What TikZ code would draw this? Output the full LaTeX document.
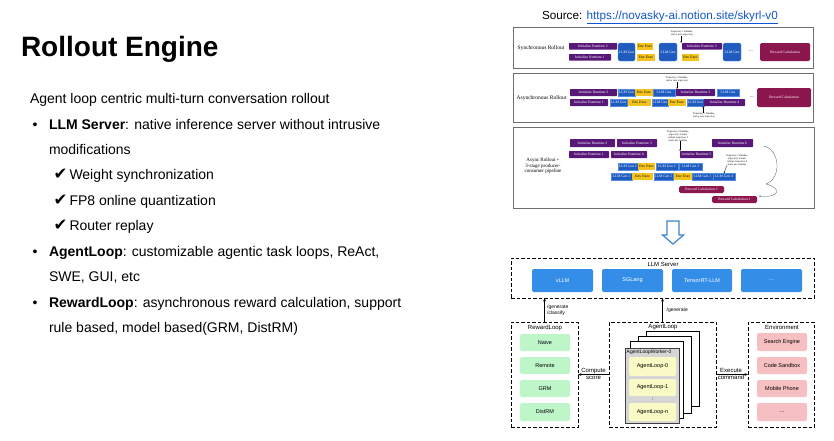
\documentclass[tikz,border=0pt]{standalone}
\usepackage{fontspec}
\setmainfont{Liberation Sans}
\newfontfamily\serfont{Liberation Serif}
\newfontfamily\symfont{DejaVu Sans}
\usetikzlibrary{arrows.meta}
\definecolor{tlpurple}{RGB}{88,24,120}
\definecolor{tlblue}{RGB}{32,92,192}
\definecolor{tlblueb}{RGB}{80,140,225}
\definecolor{tlyellow}{RGB}{245,195,30}
\definecolor{tlmaroon}{RGB}{140,22,78}
\definecolor{panelgray}{RGB}{110,110,110}
\definecolor{srvblue}{RGB}{52,142,232}
\definecolor{rlgreen}{RGB}{190,246,202}
\definecolor{envpink}{RGB}{246,192,194}
\definecolor{alyellow}{RGB}{250,250,198}
\definecolor{pagegray}{RGB}{214,214,214}
\definecolor{linkblue}{RGB}{17,85,204}
\definecolor{hollowblue}{RGB}{61,133,198}
% name, x1, y1, x2, y2, style, text
\newcommand\tlbox[7]{\node[#6, anchor=north west, inner sep=0pt, outer sep=0pt,
  minimum width={(#4-#2)*1pt}, minimum height={(#5-#3)*1pt}] (#1) at (#2,#3) {#7};}
\begin{document}
\begin{tikzpicture}[x=1pt,y=-1pt,
  txt/.style={inner sep=0pt, outer sep=0pt, anchor=base west, font=\fontsize{14}{16}\selectfont},
  chk/.style={inner sep=0pt, outer sep=0pt, anchor=base west, font=\symfont\fontsize{16.5}{18}\selectfont},
  tlf/.style={font=\serfont\fontsize{3.7}{4}\selectfont},
  tlp/.style={tlf, fill=tlpurple, text=white, rounded corners=0.6pt},
  tlb/.style={tlf, fill=tlblue, draw=tlblueb, line width=0.3pt, text=white},
  tlbr/.style={tlb, rounded corners=1.5pt},
  tly/.style={tlf, fill=tlyellow, text=black},
  tlm/.style={tlf, fill=tlmaroon, text=white, rounded corners=1.5pt},
  panel/.style={draw=panelgray, line width=0.8pt, fill=white},
  ann/.style={font=\serfont\fontsize{2.6}{2.9}\selectfont, align=center, inner sep=0pt},
  tarr/.style={-{Stealth[length=1.6pt,width=1.4pt]}, line width=0.3pt},
  dbox/.style={draw, dashed, dash pattern=on 3.5pt off 2pt, line width=0.8pt},
  dgf/.style={font=\fontsize{5.5}{6}\selectfont},
  srv/.style={dgf, fill=srvblue, rounded corners=2pt, text=white},
  grn/.style={dgf, fill=rlgreen, rounded corners=2pt},
  pnk/.style={dgf, fill=envpink, rounded corners=2pt},
  ylw/.style={dgf, fill=alyellow, rounded corners=1.5pt},
  page/.style={draw, fill=white, line width=0.6pt},
  front/.style={draw=black!75, fill=pagegray, line width=1pt},
  arr/.style={-{Stealth[length=3.5pt,width=2.8pt]}, line width=0.6pt},
  lbl/.style={font=\fontsize{6}{6.5}\selectfont, inner sep=0pt}
]
\useasboundingbox (0,0) rectangle (834,440);

% ---------------- left text ----------------
\node[txt, font=\bfseries\fontsize{28}{32}\selectfont] (title) at (21,56.5) {Rollout Engine};
\node[txt] (intro) at (30,103.3) {Agent loop centric multi-turn conversation rollout};
\node[txt] (b1) at (32.5,129.3) {\textbullet};
\node[txt] (l1) at (49,129.3) {\textbf{LLM Server}: native inference server without intrusive};
\node[txt] (l1b) at (49,154.3) {modifications};
\node[chk] (c1) at (53.5,179.3) {✔};
\node[txt] (s1) at (69.5,179.3) {Weight synchronization};
\node[chk] (c2) at (53.5,205) {✔};
\node[txt] (s2) at (69.5,205) {FP8 online quantization};
\node[chk] (c3) at (53.5,230.7) {✔};
\node[txt] (s3) at (69.5,230.7) {Router replay};
\node[txt] (b2) at (32.5,256) {\textbullet};
\node[txt] (l2) at (49,256) {\textbf{AgentLoop}: customizable agentic task loops, ReAct,};
\node[txt] (l2b) at (49,281.7) {SWE, GUI, etc};
\node[txt] (b3) at (32.5,307.3) {\textbullet};
\node[txt] (l3) at (49,307.3) {\textbf{RewardLoop}: asynchronous reward calculation, support};
\node[txt] (l3b) at (49,332.7) {rule based, model based(GRM, DistRM)};

% ---------------- source ----------------
\node[txt, font=\fontsize{11.7}{13}\selectfont] (src) at (542,19)
  {Source: \textcolor{linkblue}{\underline{https://novasky-ai.notion.site/skyrl-v0}}};

% ---------------- panel 1 ----------------
\tlbox{p1}{513}{27}{813}{68}{panel}{}
\node[font=\serfont\fontsize{5.5}{6}\selectfont, inner sep=0pt] (p1l) at (541,48.5) {Synchronous Rollout};
\tlbox{a1}{569}{43}{617}{49.5}{tlp}{Initialize Runtime 2}
\tlbox{a2}{569}{54}{611}{60.5}{tlp}{Initialize Runtime 1}
\tlbox{a3}{618}{43}{635}{61}{tlbr}{LLM Gen}
\tlbox{a4}{637}{43}{653}{49.5}{tly}{Env Exec}
\tlbox{a5}{637}{54}{655}{61}{tly}{Env Exec}
\tlbox{a6}{659}{43}{677}{61}{tlbr}{LLM Gen}
\node[ann] (a7) at (682,33.5) {Trajectory 1 finishes,\\start a new trajectory};
\tlbox{a8}{682}{43}{722}{49.5}{tlp}{Initialize Runtime 3}
\tlbox{a9}{682}{54}{699}{61}{tly}{Env Exec}
\tlbox{a10}{723}{43}{741}{61}{tlbr}{LLM Gen}
\node[font=\serfont\fontsize{5}{5}\selectfont, inner sep=0pt] (a11) at (751,51.5) {...};
\tlbox{a12}{760}{43}{810}{61}{tlm}{Reward Calculation}
\draw[tarr] (a7.south -| a8.north west) ++(-1,0) coordinate (a7s) -- (a7s |- a8.north);

% ---------------- panel 2 ----------------
\tlbox{p2}{513}{73}{813}{122}{panel}{}
\node[font=\serfont\fontsize{5.5}{6}\selectfont, inner sep=0pt] (p2l) at (541.5,98) {Asynchronous Rollout};
\tlbox{b1a}{570}{89}{617}{96}{tlp}{Initialize Runtime 2}
\tlbox{b1b}{618}{89}{635}{96}{tlb}{LLM Gen}
\tlbox{b1c}{635}{89}{653}{96}{tly}{Env Exec}
\tlbox{b1d}{653}{89}{675}{96}{tlb}{LLM Gen}
\tlbox{b1e}{676}{89}{715}{96}{tlp}{Initialize Runtime 3}
\tlbox{b1f}{717}{89}{739}{96}{tlb}{LLM Gen}
\tlbox{b2a}{570}{99}{608}{106}{tlp}{Initialize Runtime 1}
\tlbox{b2b}{610}{99}{627}{106}{tlb}{LLM Gen}
\tlbox{b2c}{628}{99}{651}{106}{tly}{Env Exec}
\tlbox{b2d}{652}{99}{668}{106}{tlb}{LLM Gen}
\tlbox{b2e}{668}{99}{686}{106}{tly}{Env Exec}
\tlbox{b2f}{687}{99}{704}{106}{tlb}{LLM Gen}
\tlbox{b2g}{704}{99}{745}{106}{tlp}{Initialize Runtime 4}
\node[ann] (b3a) at (677,79.5) {Trajectory 2 finishes,\\start a new trajectory};
\node[ann] (b3b) at (704,115.5) {Trajectory 1 finishes,\\start a new trajectory};
\coordinate (b3at) at (677,89);
\coordinate (b3bt) at (703,106);
\draw[tarr] (b3a.south -| b3at) -- (b3at);
\draw[tarr] (b3b.north -| b3bt) -- (b3bt);
\node[font=\serfont\fontsize{5}{5}\selectfont, inner sep=0pt] (b4) at (752,97.5) {...};
\tlbox{b5}{757}{88}{811}{107}{tlm}{Reward Calculation}

% ---------------- panel 3 ----------------
\tlbox{p3}{513}{127}{814}{208}{panel}{}
\node[font=\serfont\fontsize{5}{5.6}\selectfont, inner sep=0pt, align=center] (p3l) at (543,166)
  {Async Rollout +\\3-stage producer-\\consumer pipeline};
\tlbox{c1a}{570}{139}{615}{147}{tlp}{Initialize Runtime 2}
\tlbox{c1b}{617}{139}{657}{147}{tlp}{Initialize Runtime 3}
\tlbox{c1c}{712}{139}{753}{147}{tlp}{Initialize Runtime 6}
\tlbox{c2a}{569}{151}{609}{158}{tlp}{Initialize Runtime 1}
\tlbox{c2b}{611}{151}{647}{158}{tlp}{Initialize Runtime 4}
\tlbox{c2c}{680}{151}{713}{158}{tlp}{Initialize Runtime 5}
\tlbox{c3a}{618}{163}{638}{170}{tlb}{LLM Gen 2}
\tlbox{c3b}{638}{163}{655}{170}{tly}{Env Exec}
\tlbox{c3c}{656}{163}{678}{170}{tlb}{LLM Gen 2}
\tlbox{c3d}{679}{163}{702}{170}{tlb}{LLM Gen 3}
\tlbox{c4a}{611}{173}{632}{180}{tlb}{LLM Gen 1}
\tlbox{c4b}{632}{173}{653}{180}{tly}{Env Exec}
\tlbox{c4c}{654}{173}{673}{180}{tlb}{LLM Gen 1}
\tlbox{c4d}{674}{173}{692}{180}{tly}{Env Exec}
\tlbox{c4e}{692}{173}{713}{180}{tlb}{LLM Gen 1}
\tlbox{c4f}{713}{173}{735}{180}{tlb}{LLM Gen 4}
\tlbox{c5a}{679}{186}{724}{193}{tlm}{Reward Calculation 2}
\tlbox{c5b}{712}{196}{757}{203}{tlm}{Reward Calculation 1}
\node[ann] (c6a) at (678,136) {Trajectory 2 finishes,\\trajectory 3 starts\\rollout, trajectory 5\\starts env runtime};
\node[ann] (c6b) at (737,160) {Trajectory 1 finishes,\\trajectory 4 starts\\rollout, trajectory 6\\starts env runtime};
\coordinate (c6at) at (680,151);
\draw[tarr] (c6a.south -| c6at) -- (c6at);
\draw[tarr] (c6b.south west) ++(1,0) -- (c4f.north);
\coordinate (cv1) at (764,146);
\coordinate (cv2) at (766,184);
\coordinate (cv3) at (759,196);
\draw[line width=0.3pt, black!70] (cv1) .. controls (780,150) and (782,178) .. (cv2);
\draw[tarr, black!70] (cv2) .. controls (782,188) and (780,198) .. (cv3);

% ---------------- hollow arrow ----------------
\draw[draw=hollowblue, fill=white, line width=1.2pt, line join=miter]
  (667,221) -- (679,221) -- (679,235) -- (683.5,235) -- (673,244) -- (662.5,235) -- (667,235) -- cycle;

% ---------------- bottom diagram ----------------
\tlbox{llm}{511}{258}{814}{298}{dbox}{}
\node[lbl] (llml) at (663,264) {LLM Server};
\tlbox{vllm}{532}{269}{593}{292}{srv}{vLLM}
\tlbox{sgl}{602}{269}{663}{292}{srv}{SGLang}
\tlbox{trt}{672}{269}{732}{292}{srv}{TensorRT-LLM}
\tlbox{srvd}{741}{269}{802}{292}{srv}{...}

\tlbox{rl}{511}{322}{578}{427}{dbox}{}
\node[lbl] (rll) at (545,327.5) {RewardLoop};
\tlbox{naive}{520}{334}{570}{351}{grn}{Naive}
\tlbox{remote}{520}{357}{570}{374}{grn}{Remote}
\tlbox{grm}{520}{380}{570}{397}{grn}{GRM}
\tlbox{distrm}{520}{403}{570}{421}{grn}{DistRM}

\tlbox{al}{609}{322}{716}{427}{dbox}{}
\node[lbl] (all) at (663,327) {AgentLoop};
\tlbox{pg3}{646}{331}{699}{406.5}{page}{}
\tlbox{pg2}{638}{336}{691}{413}{page}{}
\tlbox{pg1}{630}{341.5}{683.5}{418}{page}{}
\tlbox{pg0}{625}{348}{679}{423}{front}{}
\node[font=\fontsize{5}{5.5}\selectfont, inner sep=0pt, anchor=north west] (wk) at (626.5,350) {AgentLoopWorker-0};
\tlbox{al0}{629}{357}{676}{376}{ylw}{AgentLoop-0}
\tlbox{al1}{629}{379}{676}{396}{ylw}{AgentLoop-1}
\node[font=\fontsize{5}{5}\selectfont, inner sep=0pt] (aldots) at (652.5,399.5) {:};
\tlbox{aln}{629}{403}{676}{421}{ylw}{AgentLoop-n}

\tlbox{env}{748}{322}{814}{427}{dbox}{}
\node[lbl] (envl) at (782,327.5) {Environment};
\tlbox{se}{757}{333}{807}{351}{pnk}{Search Engine}
\tlbox{cs}{757}{357}{807}{374}{pnk}{Code Sandbox}
\tlbox{mp}{757}{380}{807}{397}{pnk}{Mobile Phone}
\tlbox{envd}{757}{403}{807}{421}{pnk}{...}

\draw[arr] (rl.north) -- (rl.north |- llm.south);
\draw[arr] (al.north) -- (al.north |- llm.south);
\node[font=\fontsize{5}{6}\selectfont, inner sep=0pt, anchor=west, align=left] (gen1) at (547,310) {/generate\\/classify};
\node[font=\fontsize{5}{6}\selectfont, inner sep=0pt, anchor=west] (gen2) at (666.5,310) {/generate};
\draw[arr] (al.west) -- (rl.east);
\draw[arr] (al.east) -- (env.west);
\node[lbl, align=center] (cmp) at (593.5,374) {Compute\\score};
\node[lbl, align=center] (exe) at (731,374) {Execute\\command};
\end{tikzpicture}
\end{document}
